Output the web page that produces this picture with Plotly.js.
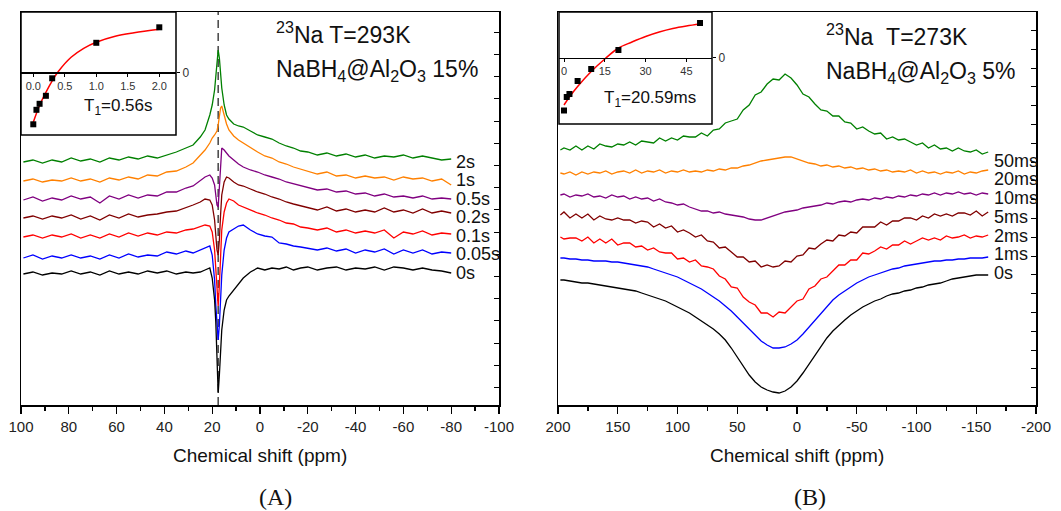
<!DOCTYPE html>
<html><head><meta charset="utf-8">
<script src="https://cdn.plot.ly/plotly-3.0.1.min.js"></script>
<style>html,body{margin:0;padding:0;background:#fff}#c{width:1061px;height:511px}</style>
</head><body><div id="c"></div>
<script>
// ---------------- DATA ----------------
// Panel A : 23Na T=293K, NaBH4@Al2O3 15%  (chemical shift, ppm)
const shiftA = [99,95,91,87,83,79,75,71,67,63,59,55,51,47,43,39,35,31,
  28,25,23,21,20,19, 18.5,18,17.5,17,16.5,16, 15,14,13,11,9,7,4,1,
  -2,-5,-8,-11,-14,-17,-20, -24,-28,-32,-36,-40,-44,-48,-52,-56,-60,-64,-68,-72,-76,-80];
const a_2s = [243,245,242,245,243,247,244,246,243,247,245,248,246,249,247,250,253,257,
  260,268,275,290,300,315, 330,345,355,347,333,317, 300,290,286,281,279,278,274,270,
  268,266,262,259,257,254,253, 250,252,249,251,248,250,247,249,248,250,247,249,247,245,246];
const a_1s = [224,226,223,225,224,227,224,226,223,227,225,228,226,230,229,233,234,238,
  242,250,255,262,267,270, 272,274,280,290,297,299, 290,281,275,269,265,262,257,253,
  249,247,243,241,238,236,234, 231,233,229,230,227,229,227,228,225,228,226,227,224,226,220];
const a_05s = [205,208,204,207,205,209,206,208,202,209,206,210,207,210,209,213,213,217,
  219,224,228,230,227,220, 210,200,198,215,240,257, 255,252,249,245,241,238,235,233,
  230,228,226,223,221,219,217, 215,216,213,214,211,212,209,211,208,209,207,209,206,207,206];
const a_02s = [187,189,186,189,187,190,186,189,185,190,187,191,188,190,191,193,194,197,
  200,203,206,205,200,185, 170,155,150,165,190,210, 223,228,227,223,220,219,216,213,
  211,208,206,203,201,199,197, 195,198,194,196,193,195,193,197,193,195,192,196,192,194,192];
const a_01s = [168,170,167,170,168,171,167,170,167,171,168,172,169,172,170,173,172,175,
  176,178,180,179,173,155, 135,110,99,120,150,175, 193,202,206,204,200,198,195,192,
  190,187,185,182,181,178,177, 175,177,173,175,172,174,172,175,167,173,171,174,170,172,171];
const a_005s = [147,150,146,149,147,150,147,149,146,150,147,151,148,150,149,153,151,154,
  152,155,157,159,150,125, 100,75,65,80,105,130, 155,167,173,176,179,180,175,171,
  169,168,162,161,159,158,157, 155,157,154,156,152,155,153,156,151,155,152,155,151,153,152];
const a_0s = [131,133,130,132,131,134,131,133,130,134,131,133,131,134,132,134,131,133,
  132,133,135,137,127,105, 83,55,12,30,55,75, 95,105,109,115,122,127,133,137,
  135,137,136,138,135,137,138, 135,137,138,135,137,136,138,135,138,137,135,137,135,134,132];
const seriesA = [a_2s, a_1s, a_05s, a_02s, a_01s, a_005s, a_0s];
const labelsA = ['2s','1s','0.5s','0.2s','0.1s','0.05s','0s'];
const dashShiftA = 17.5;

// Panel A inset : recovery, T1 = 0.56 s
const insetA_t = [0,0.05,0.1,0.2,0.3,1,2];
const insetA_m = [-1.04,-0.75,-0.63,-0.47,-0.12,0.59,0.90];
const fitA_t = [0,0.1,0.2,0.3,0.4,0.6,0.8,1.0,1.3,1.6,2.0];
const fitA_m = [-1.0,-0.66,-0.40,-0.17,0.02,0.30,0.48,0.60,0.72,0.79,0.86];

// Panel B : 23Na T=273K, NaBH4@Al2O3 5%
const shiftB = [198,195,190,185,180,175,170,165,160,155,150,145,140,135,130,125,120,115,110,105,
  100,95,90,85,80,75,70,65,60,55,50,45,40,35,30,25,20,15,10,5,
  0,-5,-10,-15,-20,-25,-30,-35,-40,-45,-50,-55,-60,-65,-70,-75,-80,-85,-90,-95,
  -100,-105,-110,-115,-120,-125,-130,-135,-140,-145,-150,-155,-160];
const b_50ms = [255,257,255,259,255,259,256,261,259,258, 261,260,263,260,264,263,262,267,264,267,
  265,269,268,268,272,269,275,276,282,284, 286,295,300,310,313,321,326,325,331,327,
  320,311,308,301,295,294,289,289,283,282, 276,278,274,271,272,266,268,265,266,263,
  260,262,257,260,256,257,254,257,254,253, 255,251,253];
const b_20ms = [232,231,233,230,233,231,233,232,234,231, 233,234,232,235,232,234,233,235,232,234,
  233,235,233,234,233,235,234,236,235,237, 237,239,240,242,244,245,246,247,248,248,
  246,244,242,241,239,240,238,239,237,238, 236,237,235,236,234,235,233,234,233,235,
  232,234,232,233,231,233,232,234,231,233, 232,234,235];
const b_10ms = [210,211,208,210,209,211,208,209,207,210, 208,209,206,208,206,207,204,206,203,202,
  200,201,198,196,194,194,192,193,191,190, 189,188,186,185,185,187,189,191,193,194,
  195,197,198,199,200,202,201,203,204,203, 205,206,205,207,206,208,207,209,208,210,
  209,211,210,212,210,212,211,213,211,212, 210,212,211];
const b_5ms = [190,193,187,191,187,191,185,189,186,185, 187,185,185,182,184,183,178,181,177,179,
  173,175,172,168,170,164,163,157,158,153, 148,148,143,144,138,140,138,139,144,143,
  149,150,157,156,161,165,164,170,169,173, 172,178,178,178,183,180,184,184,187,187,
  185,189,187,191,189,191,189,192,192,190, 194,189,193];
const b_2ms = [168,166,167,167,164,168,162,166,162,166, 160,162,162,158,159,155,157,153,152,152,
  146,147,143,145,139,138,136,129,126,118, 117,108,103,100,92,92,88,93,92,98,
  104,106,116,119,126,128,134,140,140,145, 145,152,151,154,158,156,160,160,164,161,
  164,167,165,167,165,169,167,168,170,167, 169,168,170];
const b_1ms = [147,147,146,146,145,145,144,144,144,143, 143,142,141,140,139,138,136,134,132,130,
  128,125,122,119,116,112,108,104,99,94, 88,82,75,69,64,60,57,57,58,61,
  65,71,78,85,92,99,105,110,114,118, 122,125,128,130,132,134,136,137,139,140,
  141,142,143,144,144,145,145,146,146,147, 147,147,148];
const b_0s = [125,125,124,123,122,122,121,120,119,118, 117,116,115,114,112,110,108,106,104,101,
  98,95,92,88,84,80,76,71,65,57, 48,39,30,23,18,15,13,12,14,18,
  24,32,41,50,59,67,74,80,85,90, 94,98,101,104,106,109,111,112,114,115,
  117,118,120,121,122,124,126,127,128,129, 130,130,130];
const seriesB = [b_50ms, b_20ms, b_10ms, b_5ms, b_2ms, b_1ms, b_0s];
const labelsB = ['50ms','20ms','10ms','5ms','2ms','1ms','0s'];

// Panel B inset : recovery, T1 = 20.59 ms
const insetB_t = [0,1,2,5,10,20,50];
const insetB_m = [-1.06,-0.79,-0.73,-0.47,-0.23,0.15,0.69];
const fitB_t = [0,2,5,10,15,20,25,30,35,40,45,50];
const fitB_m = [-0.95,-0.79,-0.58,-0.28,-0.03,0.19,0.31,0.42,0.51,0.58,0.63,0.67];

const ticksA = [100,80,60,40,20,0,-20,-40,-60,-80,-100];
const tickTextA = ['100','80','60','40','20','0','-20','-40','-60','-80','-100'];
const minorA = [90,70,50,30,10,-10,-30,-50,-70,-90];
const ticksB = [200,150,100,50,0,-50,-100,-150,-200];
const tickTextB = ['200','150','100','50','0','-50','-100','-150','-200'];
const minorB = [175,125,75,25,-25,-75,-125,-175];

const colors = ['#008000','#ff8000','#800080','#800000','#ff0000','#0000ff','#000000'];

// ---------------- LAYOUT HELPERS ----------------
const W = 1061, H = 511;
const fx = p => p / W;
const fy = p => 1 - p / H;
const FONT = 'Liberation Sans, Arial, sans-serif';

const traces = [];
seriesA.forEach((s, i) => traces.push({x: shiftA, y: s, xaxis: 'x', yaxis: 'y', mode: 'lines',
  line: {color: colors[i], width: 1.3}, hoverinfo: 'skip'}));
seriesB.forEach((s, i) => traces.push({x: shiftB, y: s, xaxis: 'x2', yaxis: 'y2', mode: 'lines',
  line: {color: colors[i], width: 1.3}, hoverinfo: 'skip'}));
traces.push({x: fitA_t, y: fitA_m, xaxis: 'x3', yaxis: 'y3', mode: 'lines', line: {color: '#ff0000', width: 1.5, shape: 'spline'}});
traces.push({x: insetA_t, y: insetA_m, xaxis: 'x3', yaxis: 'y3', mode: 'markers', marker: {symbol: 'square', size: 6, color: '#000'}});
traces.push({x: fitB_t, y: fitB_m, xaxis: 'x4', yaxis: 'y4', mode: 'lines', line: {color: '#ff0000', width: 1.5, shape: 'spline'}});
traces.push({x: insetB_t, y: insetB_m, xaxis: 'x4', yaxis: 'y4', mode: 'markers', marker: {symbol: 'square', size: 6, color: '#000'}});

function mainX(dom, range, tv, tt, mv, anchor) {
  return {domain: dom, range: range, anchor: anchor, tickmode: 'array', tickvals: tv, ticktext: tt,
    ticks: 'outside', ticklen: 7, tickwidth: 1.3, tickcolor: '#000',
    minor: {tickmode: 'array', tickvals: mv, ticks: 'outside', ticklen: 4, tickwidth: 1.3, tickcolor: '#000'},
    showline: true, mirror: true, linecolor: '#000', linewidth: 1.5, showgrid: false, zeroline: false,
    tickfont: {family: FONT, size: 15, color: '#222'}, fixedrange: true};
}
function mainY(dom, anchor, t0, dt) {
  return {domain: dom, range: [0, 393], anchor: anchor, side: 'right', showline: true, mirror: true,
    linecolor: '#000', linewidth: 1.5, ticks: 'inside', ticklen: 5, tickcolor: '#000', tickmode: 'linear',
    tick0: t0, dtick: dt, showticklabels: false, showgrid: false, zeroline: false, fixedrange: true};
}
function insetX(dom, range, tv, tt, pos, anchorName) {
  return {domain: dom, range: range, anchor: 'free', position: pos, tickmode: 'array', tickvals: tv, ticktext: tt,
    ticks: 'outside', ticklen: 3, tickcolor: '#000', showline: true, linecolor: '#000', linewidth: 1.2,
    showgrid: false, zeroline: false, tickfont: {family: FONT, size: 11, color: '#333'}};
}
function insetY(dom, range, anchor) {
  return {domain: dom, range: range, anchor: anchor, side: 'right', tickmode: 'array', tickvals: [0], ticktext: ['0'],
    ticks: 'outside', ticklen: 3, tickcolor: '#000', showline: false, showgrid: false, zeroline: false,
    tickfont: {family: FONT, size: 12, color: '#333'}};
}

const annotations = [];
const labYA = [162,180,199,217,236,254,273];
const labYB = [161,179,198,217,236,254,273];
labelsA.forEach((t, i) => annotations.push({text: t, xref: 'paper', yref: 'paper', x: fx(454), y: fy(labYA[i]),
  xanchor: 'left', yanchor: 'middle', showarrow: false, font: {family: FONT, size: 18, color: '#111'}}));
labelsB.forEach((t, i) => annotations.push({text: t, xref: 'paper', yref: 'paper', x: fx(992), y: fy(labYB[i]),
  xanchor: 'left', yanchor: 'middle', showarrow: false, font: {family: FONT, size: 18, color: '#111'}}));
const big = {family: FONT, size: 23, color: '#111'};
annotations.push({text: '<sup>23</sup>Na T=293K', xref: 'paper', yref: 'paper', x: fx(274), y: fy(33), xanchor: 'left', yanchor: 'middle', showarrow: false, font: big});
annotations.push({text: 'NaBH<sub>4</sub>@Al<sub>2</sub>O<sub>3</sub> 15%', xref: 'paper', yref: 'paper', x: fx(274), y: fy(70), xanchor: 'left', yanchor: 'middle', showarrow: false, font: big});
annotations.push({text: '<sup>23</sup>Na\u00a0\u00a0T=273K', xref: 'paper', yref: 'paper', x: fx(824), y: fy(35), xanchor: 'left', yanchor: 'middle', showarrow: false, font: big});
annotations.push({text: 'NaBH<sub>4</sub>@Al<sub>2</sub>O<sub>3</sub> 5%', xref: 'paper', yref: 'paper', x: fx(824), y: fy(72), xanchor: 'left', yanchor: 'middle', showarrow: false, font: big});
annotations.push({text: 'T<sub>1</sub>=0.56s', xref: 'paper', yref: 'paper', x: fx(118), y: fy(107), xanchor: 'center', yanchor: 'middle', showarrow: false, font: {family: FONT, size: 17, color: '#111'}});
annotations.push({text: 'T<sub>1</sub>=20.59ms', xref: 'paper', yref: 'paper', x: fx(650), y: fy(99), xanchor: 'center', yanchor: 'middle', showarrow: false, font: {family: FONT, size: 17, color: '#111'}});
annotations.push({text: 'Chemical shift (ppm)', xref: 'paper', yref: 'paper', x: fx(260), y: fy(455), xanchor: 'center', yanchor: 'middle', showarrow: false, font: {family: FONT, size: 19, color: '#111'}});
annotations.push({text: 'Chemical shift (ppm)', xref: 'paper', yref: 'paper', x: fx(797), y: fy(455), xanchor: 'center', yanchor: 'middle', showarrow: false, font: {family: FONT, size: 19, color: '#111'}});
annotations.push({text: '(A)', xref: 'paper', yref: 'paper', x: fx(275), y: fy(497), xanchor: 'center', yanchor: 'middle', showarrow: false, font: {family: 'Liberation Serif, DejaVu Serif, serif', size: 24, color: '#111'}});
annotations.push({text: '(B)', xref: 'paper', yref: 'paper', x: fx(810), y: fy(497), xanchor: 'center', yanchor: 'middle', showarrow: false, font: {family: 'Liberation Serif, DejaVu Serif, serif', size: 24, color: '#111'}});

const shapes = [
  {type: 'line', xref: 'x', yref: 'paper', x0: dashShiftA, x1: dashShiftA, y0: fy(405), y1: fy(12),
   line: {color: '#444', width: 1.5, dash: '8px,5px'}, layer: 'below'},
  {type: 'rect', xref: 'paper', yref: 'paper', x0: fx(21), x1: fx(176), y0: fy(135), y1: fy(12), line: {color: '#000', width: 1.5}},
  {type: 'rect', xref: 'paper', yref: 'paper', x0: fx(559), x1: fx(712), y0: fy(124), y1: fy(12), line: {color: '#000', width: 1.5}}
];

const layout = {
  width: W, height: H, margin: {l: 0, r: 0, t: 0, b: 0}, showlegend: false,
  paper_bgcolor: '#fff', plot_bgcolor: 'rgba(0,0,0,0)',
  font: {family: FONT, color: '#111'},
  xaxis: mainX([fx(21), fx(499)], [100, -100], ticksA, tickTextA, minorA, 'y'),
  yaxis: mainY([fy(405), fy(12)], 'x', 17.6, 22.2),
  xaxis2: mainX([fx(558), fx(1036)], [200, -200], ticksB, tickTextB, minorB, 'y2'),
  yaxis2: mainY([fy(405), fy(12)], 'x2', 17.3, 18.8),
  xaxis3: insetX([fx(21), fx(176)], [-0.195, 2.265], [0, 0.5, 1, 1.5, 2], ['0.0', '0.5', '1.0', '1.5', '2.0'], fy(72.3)),
  yaxis3: insetY([fy(135), fy(12)], [-1.254, 1.206], 'x3'),
  xaxis4: insetX([fx(559), fx(712)], [-1.84, 54.4], [0, 15, 30, 45], ['0', '15', '30', '45'], fy(57.7)),
  yaxis4: insetY([fy(124), fy(12)], [-1.33, 0.91], 'x4'),
  annotations: annotations, shapes: shapes
};
Plotly.newPlot('c', traces, layout, {staticPlot: true, displayModeBar: false});
</script></body></html>
